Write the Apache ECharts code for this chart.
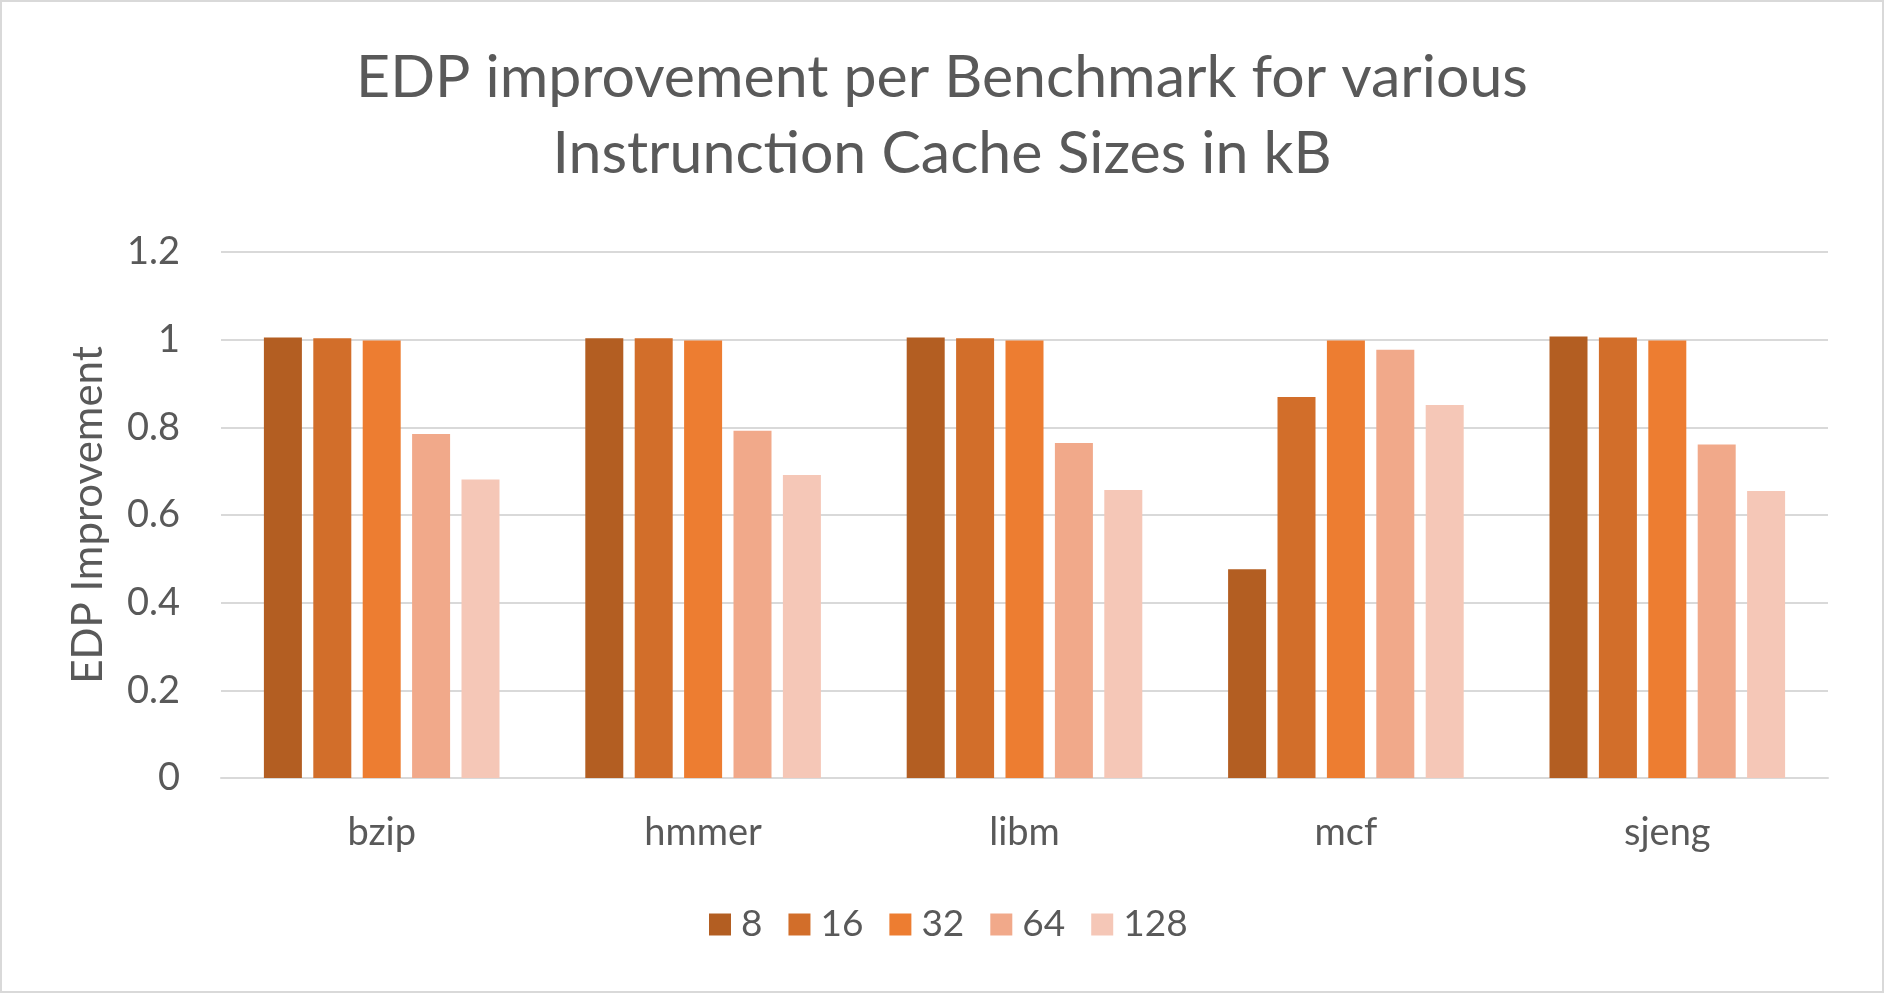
<!DOCTYPE html>
<html>
<head>
<meta charset="utf-8">
<title>EDP improvement per Benchmark</title>
<script src="https://cdn.jsdelivr.net/npm/echarts@6/dist/echarts.min.js"></script>
<style>
  html, body { margin: 0; padding: 0; background: #fff; }
  #chart { width: 1884px; height: 993px; box-sizing: border-box; border: 2px solid #d9d9d9; }
</style>
</head>
<body>
<div id="chart"></div>
<script>
// benchmarks on the x axis
const benchmarks = ['bzip', 'hmmer', 'libm', 'mcf', 'sjeng'];
// instruction cache sizes (kB), one series each
const cacheSizes = ['8', '16', '32', '64', '128'];
const edp8 = [1.005, 1.003, 1.005, 0.476, 1.007];
const edp16 = [1.003, 1.003, 1.003, 0.869, 1.005];
const edp32 = [0.998, 0.998, 0.998, 0.998, 0.998];
const edp64 = [0.785, 0.792, 0.764, 0.977, 0.761];
const edp128 = [0.681, 0.691, 0.657, 0.851, 0.655];
const yTicks = [0, 0.2, 0.4, 0.6, 0.8, 1, 1.2];

const seriesValues = [edp8, edp16, edp32, edp64, edp128];
const barColors = ['#b35e22', '#d26e2a', '#ed7d31', '#f1a98a', '#f5c7b7'];
const font = 'Lato, "Open Sans", sans-serif';
const textGrey = '#595959';

const chart = echarts.init(document.getElementById('chart'));

const option = {
    backgroundColor: '#fff',
    animation: false,
    color: barColors,
    title: {
        text: 'EDP improvement per Benchmark for various\nInstrunction Cache Sizes in kB',
        left: 'center',
        top: 33,
        textStyle: { color: textGrey, fontFamily: font, fontWeight: 'normal', fontSize: 59, lineHeight: 76 }
    },
    legend: {
        data: cacheSizes,
        bottom: 43,
        left: 702,
        itemWidth: 22,
        itemHeight: 22,
        itemGap: 26,
        icon: 'rect',
        textStyle: { color: textGrey, fontFamily: font, fontSize: 37, padding: [0, 0, 0, 5] }
    },
    grid: { left: 219, right: 54, top: 250, bottom: 213, containLabel: false },
    xAxis: {
        type: 'category',
        data: benchmarks,
        axisLine: { lineStyle: { color: '#d9d9d9', width: 2 } },
        axisTick: { show: false },
        axisLabel: { color: textGrey, fontFamily: font, fontSize: 38, margin: 36 }
    },
    yAxis: {
        type: 'value',
        min: yTicks[0],
        max: yTicks[yTicks.length - 1],
        interval: 0.2,
        name: 'EDP Improvement',
        nameLocation: 'middle',
        nameGap: 112,
        nameTextStyle: { color: textGrey, fontFamily: font, fontSize: 42 },
        axisLine: { show: false },
        axisTick: { show: false },
        axisLabel: {
            color: textGrey, fontFamily: font, fontSize: 38, margin: 41,
            formatter: v => String(Math.round(v * 10) / 10)
        },
        splitLine: { lineStyle: { color: '#d9d9d9', width: 2 } }
    },
    series: cacheSizes.map((name, i) => ({
        name: name,
        type: 'bar',
        barWidth: 38,
        barGap: '30%',
        data: seriesValues[i]
    }))
};

chart.setOption(option);
window.addEventListener('resize', () => chart.resize());
</script>
</body>
</html>
